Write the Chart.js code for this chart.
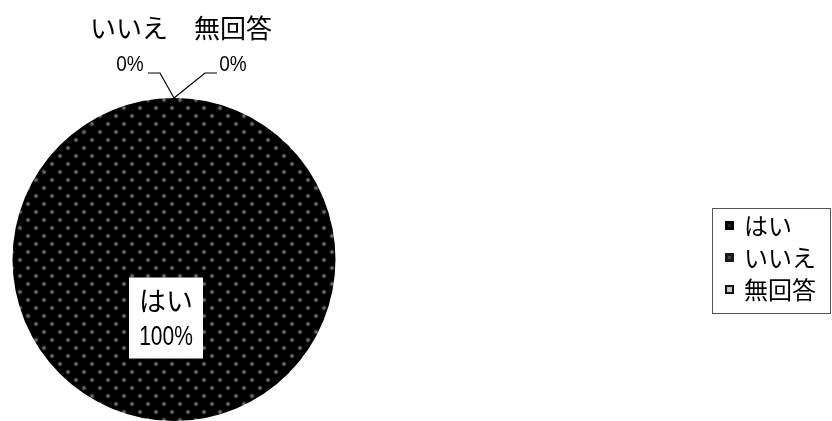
<!DOCTYPE html>
<html>
<head>
<meta charset="utf-8">
<script src="https://cdn.jsdelivr.net/npm/chart.js@4/dist/chart.umd.min.js"></script>
<style>
  html, body { margin: 0; padding: 0; background: #fff; }
  #wrap { width: 832px; height: 421px; position: relative; }
</style>
</head>
<body>
<div id="wrap"><canvas id="chart"></canvas></div>
<script>
const categories = ['はい', 'いいえ', '無回答'];
const values = [100, 0, 0];
const percentLabels = ['100%', '0%', '0%'];

// dotted dark fill like the original
function makePattern(bg, dot) {
    const c = document.createElement('canvas');
    c.width = 16; c.height = 16;
    const g = c.getContext('2d');
    g.fillStyle = bg;
    g.fillRect(0, 0, 16, 16);
    [[4, 4], [12, 12]].forEach(p => {
        const rg = g.createRadialGradient(p[0], p[1], 0, p[0], p[1], 3);
        rg.addColorStop(0, dot);
        rg.addColorStop(1, bg);
        g.fillStyle = rg;
        g.fillRect(p[0] - 3, p[1] - 3, 6, 6);
    });
    return g.createPattern(c, 'repeat');
}

const jpFont = '"Noto Sans CJK JP", "Liberation Sans", sans-serif';
const numFont = '"Liberation Sans", Arial, sans-serif';

// text stretched a bit vertically, as in the source picture
function tallText(ctx, txt, x, y, sy) {
    ctx.save();
    ctx.translate(x, y);
    ctx.scale(1, sy);
    ctx.fillText(txt, 0, 0);
    ctx.restore();
}

const labelPlugin = {
    id: 'pieLabels',
    afterDatasetsDraw(chart) {
        const ctx = chart.ctx;
        const arc = chart.getDatasetMeta(0).data[0];
        const cx = arc.x, cy = arc.y, r = arc.outerRadius;
        const topY = cy - r;
        ctx.save();
        // leader lines for the 0% slices
        ctx.strokeStyle = '#000';
        ctx.lineWidth = 1.2;
        ctx.beginPath();
        ctx.moveTo(cx, topY);
        ctx.lineTo(cx - 14, topY - 25);
        ctx.lineTo(cx - 26, topY - 25);
        ctx.moveTo(cx, topY);
        ctx.lineTo(cx + 31, topY - 25);
        ctx.lineTo(cx + 43, topY - 25);
        ctx.stroke();

        ctx.fillStyle = '#000';
        ctx.textBaseline = 'middle';
        ctx.textAlign = 'center';
        ctx.font = '26px ' + jpFont;
        ctx.fillText(categories[1], cx - 45, topY - 70);
        ctx.fillText(categories[2], cx + 59, topY - 70);
        ctx.font = '19px ' + numFont;
        tallText(ctx, percentLabels[1], cx - 44, topY - 33, 1.15);
        tallText(ctx, percentLabels[2], cx + 59, topY - 33, 1.15);

        // white box label for the main slice
        const bx = 129, by = cy + 18, bw = 74, bh = 81;
        ctx.fillStyle = '#fff';
        ctx.fillRect(bx, by, bw, bh);
        ctx.fillStyle = '#000';
        ctx.font = '27px ' + jpFont;
        ctx.fillText(categories[0], bx + bw / 2, by + 23);
        ctx.font = '21px ' + numFont;
        tallText(ctx, percentLabels[0], bx + bw / 2, by + 60, 1.3);

        // legend box
        const lx = 712, ly = 208, lw = 119, lh = 105;
        ctx.strokeStyle = '#555';
        ctx.lineWidth = 1;
        ctx.strokeRect(lx + 0.5, ly + 0.5, lw - 1, lh);
        ctx.textAlign = 'left';
        ctx.font = '24px ' + jpFont;
        categories.forEach((c, i) => {
            const yy = ly + 17 + i * 32;
            if (i === 2) {
                ctx.fillStyle = '#111';
                ctx.fillRect(lx + 13, yy - 4, 9, 9);
                ctx.fillStyle = '#ccc';
                ctx.fillRect(lx + 15, yy - 2, 5, 5);
            } else {
                ctx.fillStyle = i === 0 ? '#000' : '#1a1a1a';
                ctx.fillRect(lx + 13, yy - 4, 9, 9);
                ctx.fillStyle = i === 0 ? '#222' : '#444';
                ctx.fillRect(lx + 16, yy - 1, 3, 3);
            }
            ctx.fillStyle = '#000';
            ctx.fillText(c, lx + 32, yy + 1);
        });
        ctx.restore();
    }
};

const ctxEl = document.getElementById('chart');
const fillMain = makePattern('#000', '#8a8a8a');
const fillNo = makePattern('#111', '#444');
const fillNa = makePattern('#eee', '#000');

new Chart(ctxEl, {
    type: 'pie',
    data: {
        labels: categories,
        datasets: [{
            data: values,
            backgroundColor: [fillMain, fillNo, fillNa],
            borderWidth: 0
        }]
    },
    options: {
        responsive: true,
        maintainAspectRatio: false,
        animation: false,
        layout: { padding: { top: 98, bottom: -2, left: 12, right: 496 } },
        plugins: {
            legend: { display: false },
            tooltip: { enabled: false }
        }
    },
    plugins: [labelPlugin]
});
</script>
</body>
</html>
